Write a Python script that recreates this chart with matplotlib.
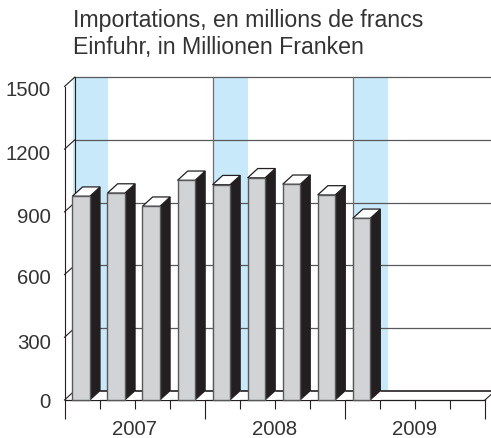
import matplotlib
matplotlib.use("Agg")
import matplotlib.pyplot as plt
from matplotlib.patches import Polygon, Rectangle
from matplotlib.transforms import Affine2D

plt.rcParams['font.family'] = ['Liberation Sans', 'DejaVu Sans']

# valeurs
valeurs = [975, 990, 927, 1051, 1030, 1063, 1032, 981, 869]
positions = [0, 1, 2, 3, 4, 5, 6, 7, 8]
annees = ["2007", "2008", "2009"]
pos_annees = [2, 6, 10]
graduations = [0, 300, 600, 900, 1200, 1500]
debut_bandes = [-0.05, 3.95, 7.95]
titre = "Importations, en millions de francs\nEinfuhr, in Millionen Franken"

W, H = 491, 439
gauche, droite, haut, bas = 64.5, 485, 87.5, 401

fig = plt.figure(figsize=(W / 100, H / 100), dpi=100)
ax = fig.add_axes([gauche / W, 1 - bas / H, (droite - gauche) / W, (bas - haut) / H])
ax.set_xlim(0, 12)
ax.set_ylim(0, 1500)
for s in ax.spines.values():
    s.set_visible(False)
ax.patch.set_visible(False)

# profondeur de l'effet 3d, en unites du graphique
dx = 10.2 / ((droite - gauche) / 12)
dy = 9.3 / ((bas - haut) / 1500)
gris = "#58595b"
noir = "#231f20"

# bandes bleues sur le fond
for b in debut_bandes:
    ax.add_patch(Rectangle((b + dx, dy), 0.99, 1500, fc="#c7e9f9", ec="none", zorder=1, clip_on=False))

# grille du fond et des cotes
for g in graduations:
    ax.plot([dx, 12 + dx], [g + dy, g + dy], color=gris if g else noir, lw=0.9 if g else 1.2, zorder=2, clip_on=False)
    ax.plot([0, dx], [g, g + dy], color=noir, lw=0.8, zorder=2, clip_on=False)
for b in debut_bandes[1:]:
    ax.plot([b + dx, b + dx], [dy, 1500 + dy], color="#6d6e71", lw=0.9, zorder=2, clip_on=False)
ax.plot([dx, dx], [dy, 1500 + dy], color=noir, lw=0.8, zorder=2, clip_on=False)
ax.plot([12, 12 + dx], [0, dy], color=noir, lw=0.8, zorder=2, clip_on=False)
ax.plot([0, 12], [0, 0], color=noir, lw=0.9, zorder=3, clip_on=False)
ax.plot([0, 0], [0, 1500], color=noir, lw=0.8, zorder=3, clip_on=False)

# barres
largeur = 0.5
for p, v in zip(positions, valeurs):
    x0 = p + 0.225
    x1 = x0 + largeur
    ax.add_patch(Polygon([(x1, 0), (x1 + dx, dy), (x1 + dx, v + dy), (x1, v)],
                         fc=noir, ec=noir, lw=0.7, zorder=4, clip_on=False))
    ax.add_patch(Polygon([(x0, v), (x1, v), (x1 + dx, v + dy), (x0 + dx, v + dy)],
                         fc="white", ec=noir, lw=0.9, zorder=4, clip_on=False))
    ax.add_patch(Rectangle((x0, 0), largeur, v, fc="#d1d3d4", ec=gris, lw=1.0, zorder=5, clip_on=False))
    # petit triangle blanc du sol devant la face noire
    ax.add_patch(Polygon([(x1, 0), (x1 + dx, dy), (x1 + dx, 0)], fc="white", ec="none", zorder=3, clip_on=False))

ax.set_yticks(graduations)
ax.set_xticks(range(13))
ax.set_xticklabels([])
ax.tick_params(axis="y", length=0, pad=10, labelsize=14.7, labelcolor="#333333")
ax.tick_params(axis="x", length=6.5, width=0.8, color=noir)
# les etiquettes de l'original ne sont pas tout a fait alignees sur la grille
for lab, d in zip(ax.get_yticklabels(), [0, 3.5, 1, 2.7, 2, 1.5]):
    lab.set_transform(lab.get_transform() + Affine2D().translate(0, -d))
for i, t in enumerate(ax.xaxis.get_major_ticks()):
    if i % 4 == 0:
        t.tick1line.set_markersize(13.5)
for x, a in zip(pos_annees, annees):
    ax.annotate(a, (x, 0), xytext=(0, -29), textcoords="offset pixels", ha="center", va="center",
                fontsize=14.7, color="#333333")

fig.text(73 / W, 1 - 9 / H, titre, ha="left", va="top", fontsize=16.7, color="#333333", linespacing=1.24)

fig.savefig("out.png", dpi=100)
